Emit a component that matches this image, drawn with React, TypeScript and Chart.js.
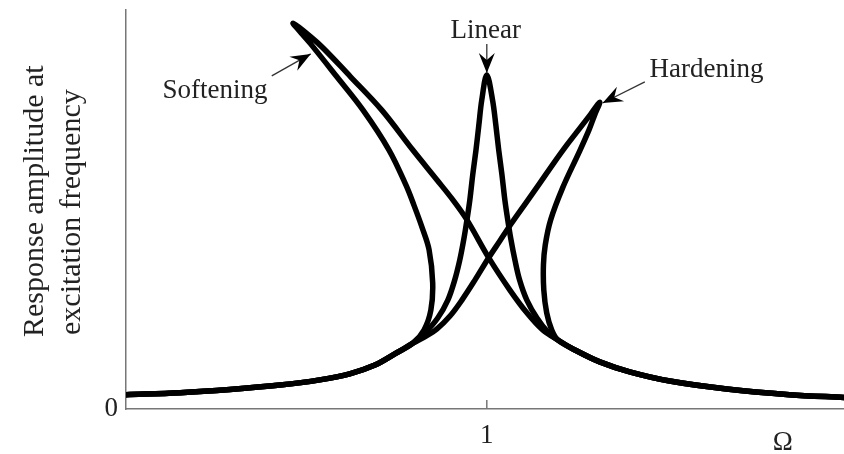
import React, { useEffect, useRef } from "react";
import { Chart, registerables } from "chart.js";

Chart.register(...registerables);

const SERIF = '"Liberation Serif", "Times New Roman", "DejaVu Serif", serif';
const INK = "#222";
const AXIS = "#777";

// Branch shared by all three responses below resonance (Ω, amplitude)
const lowOmega = [0, 0.15, 0.288, 0.427, 0.537, 0.62, 0.69, 0.745, 0.795];
const lowAmp = [0.036, 0.041, 0.049, 0.06, 0.073, 0.088, 0.11, 0.138, 0.165];

// Branch shared by all three responses above resonance
const highOmega = [1.197, 1.244, 1.313, 1.396, 1.507, 1.665, 1.839, 1.99];
const highAmp = [0.173, 0.148, 0.118, 0.093, 0.07, 0.05, 0.036, 0.029];

// Linear oscillator around Ω = 1
const linearOmega = [0.828, 0.864, 0.892, 0.911, 0.925, 0.936, 0.945, 0.953, 0.961, 0.97, 0.978, 0.986, 1.0, 1.016, 1.025, 1.033, 1.042, 1.05, 1.058, 1.067, 1.078, 1.091, 1.111, 1.139, 1.169];
const linearAmp = [0.19, 0.228, 0.273, 0.323, 0.373, 0.424, 0.474, 0.524, 0.587, 0.649, 0.712, 0.774, 0.837, 0.774, 0.712, 0.649, 0.587, 0.524, 0.474, 0.424, 0.373, 0.323, 0.273, 0.228, 0.193];

// Softening: the peak leans toward lower Ω
const softOmega = [0.826, 0.845, 0.85, 0.84, 0.821, 0.798, 0.776, 0.729, 0.657, 0.585, 0.51, 0.463, 0.532, 0.623, 0.709, 0.795, 0.862, 0.906, 0.945, 1.006, 1.064, 1.111, 1.155];
const softAmp = [0.198, 0.248, 0.316, 0.399, 0.454, 0.511, 0.561, 0.649, 0.749, 0.832, 0.917, 0.967, 0.917, 0.832, 0.749, 0.649, 0.574, 0.524, 0.474, 0.378, 0.298, 0.241, 0.198];

// Hardening: the peak leans toward higher Ω
const hardOmega = [0.828, 0.862, 0.898, 0.931, 0.967, 1.003, 1.036, 1.069, 1.108, 1.147, 1.186, 1.222, 1.258, 1.288, 1.313, 1.299, 1.283, 1.255, 1.211, 1.177, 1.162, 1.157, 1.158, 1.166, 1.18];
const hardAmp = [0.181, 0.201, 0.233, 0.273, 0.323, 0.376, 0.421, 0.466, 0.516, 0.566, 0.617, 0.662, 0.704, 0.739, 0.769, 0.737, 0.699, 0.642, 0.556, 0.474, 0.411, 0.361, 0.298, 0.241, 0.198];

// Axis ticks
const omegaTicks = [1];
const ampTicks = [0];

// Callouts: label text, label anchor (Ω, amplitude), arrow tail and tip
const noteLabels = ["Softening", "Linear", "Hardening"];
const noteAt = [
  [0.2465, 0.779],
  [0.997, 0.93],
  [1.609, 0.832],
];
const arrowFrom = [
  [0.404, 0.835],
  [1.0, 0.915],
  [1.438, 0.82],
];
const arrowTo = [
  [0.512, 0.89],
  [1.0, 0.842],
  [1.321, 0.767],
];

const yTitle = ["Response amplitude at", "excitation frequency"];
const xTitle = "Ω";

function zip(xs: number[], ys: number[]) {
  return xs.map((x, i) => ({ x, y: ys[i] }));
}

function curve(omega: number[], amp: number[]) {
  return [...zip(lowOmega, lowAmp), ...zip(omega, amp), ...zip(highOmega, highAmp)];
}

function arrowHead(ctx: CanvasRenderingContext2D, fx: number, fy: number, tx: number, ty: number) {
  const dx = tx - fx;
  const dy = ty - fy;
  const len = Math.hypot(dx, dy) || 1;
  const ux = dx / len;
  const uy = dy / len;
  const nx = -uy;
  const ny = ux;
  const L = 20;
  const W = 8;
  const notch = 7;
  ctx.beginPath();
  ctx.moveTo(tx, ty);
  ctx.lineTo(tx - L * ux + W * nx, ty - L * uy + W * ny);
  ctx.lineTo(tx - (L - notch) * ux, ty - (L - notch) * uy);
  ctx.lineTo(tx - L * ux - W * nx, ty - L * uy - W * ny);
  ctx.closePath();
  ctx.fill();
}

const decorations = {
  id: "decorations",
  afterDraw(chart: any) {
    const { ctx, chartArea, scales } = chart;
    const xs = scales.x;
    const ys = scales.y;
    ctx.save();

    // inward tick marks on the Ω axis
    ctx.strokeStyle = AXIS;
    ctx.lineWidth = 1.5;
    omegaTicks.forEach((t) => {
      const px = xs.getPixelForValue(t);
      ctx.beginPath();
      ctx.moveTo(px, chartArea.bottom);
      ctx.lineTo(px, chartArea.bottom - 9);
      ctx.stroke();
    });

    // callout arrows
    ctx.strokeStyle = "#333";
    ctx.fillStyle = "#000";
    ctx.lineWidth = 1.3;
    arrowFrom.forEach((f, i) => {
      const fx = xs.getPixelForValue(f[0]);
      const fy = ys.getPixelForValue(f[1]);
      const tx = xs.getPixelForValue(arrowTo[i][0]);
      const ty = ys.getPixelForValue(arrowTo[i][1]);
      ctx.beginPath();
      ctx.moveTo(fx, fy);
      ctx.lineTo(tx, ty);
      ctx.stroke();
      arrowHead(ctx, fx, fy, tx, ty);
    });

    // callout labels
    ctx.fillStyle = INK;
    ctx.font = `27px ${SERIF}`;
    ctx.textAlign = "center";
    ctx.textBaseline = "alphabetic";
    noteLabels.forEach((s, i) => {
      ctx.fillText(s, xs.getPixelForValue(noteAt[i][0]), ys.getPixelForValue(noteAt[i][1]));
    });

    // Ω axis title
    ctx.fillText(xTitle, xs.getPixelForValue(1.82), chartArea.bottom + 41);

    // amplitude axis title, two lines reading upward
    ctx.font = `30px ${SERIF}`;
    ctx.textAlign = "left";
    const baseX = [43, 80];
    const startY = [337, 335];
    yTitle.forEach((s, i) => {
      ctx.save();
      ctx.translate(baseX[i], startY[i]);
      ctx.rotate(-Math.PI / 2);
      ctx.fillText(s, 0, 0);
      ctx.restore();
    });

    ctx.restore();
  },
};

export default function App() {
  const ref = useRef<HTMLCanvasElement | null>(null);

  useEffect(() => {
    if (!ref.current) return;
    const line = (data: { x: number; y: number }[]) => ({
      data,
      showLine: true,
      borderColor: "#000",
      borderWidth: 5.5,
      pointRadius: 0,
      tension: 0.35,
      borderJoinStyle: "round" as const,
      borderCapStyle: "round" as const,
      fill: false,
    });

    const chart = new Chart(ref.current, {
      type: "scatter",
      data: {
        datasets: [
          { label: "Linear", ...line(curve(linearOmega, linearAmp)) },
          { label: "Softening", ...line(curve(softOmega, softAmp)) },
          { label: "Hardening", ...line(curve(hardOmega, hardAmp)) },
        ],
      },
      options: {
        responsive: false,
        animation: false,
        layout: { padding: { top: 10, right: 0, left: 0, bottom: 0 } },
        plugins: {
          legend: { display: false },
          tooltip: { enabled: false },
        },
        scales: {
          x: {
            type: "linear",
            min: 0,
            max: 1.99,
            grid: { display: false, drawTicks: false },
            border: { display: true, color: AXIS, width: 1.5 },
            afterBuildTicks: (s: any) => {
              s.ticks = omegaTicks.map((value) => ({ value }));
            },
            afterFit: (s: any) => {
              s.height = 45;
              s.paddingLeft = 0;
              s.paddingRight = 0;
            },
            ticks: {
              color: INK,
              padding: 11,
              font: { family: SERIF, size: 27 },
              maxRotation: 0,
            },
          },
          y: {
            type: "linear",
            min: 0,
            max: 1,
            grid: { display: false, drawTicks: false },
            border: { display: true, color: AXIS, width: 1.5 },
            afterBuildTicks: (s: any) => {
              s.ticks = ampTicks.map((value) => ({ value }));
            },
            afterFit: (s: any) => {
              s.width = 126;
              s.paddingTop = 0;
              s.paddingBottom = 0;
            },
            ticks: {
              color: INK,
              padding: 8,
              font: { family: SERIF, size: 27 },
            },
          },
        },
      },
      plugins: [decorations],
    });
    return () => chart.destroy();
  }, []);

  return (
    <div style={{ position: "fixed", left: 0, top: 0, width: 844, height: 454, background: "#fff" }}>
      <canvas ref={ref} width={844} height={454} style={{ display: "block" }} />
    </div>
  );
}
